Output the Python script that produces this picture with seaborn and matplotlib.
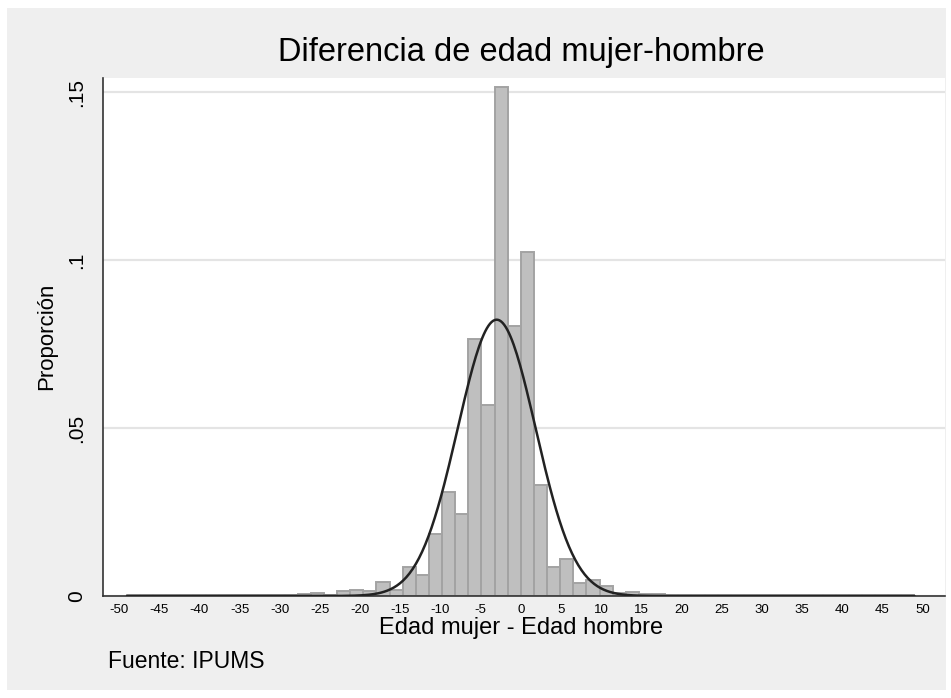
import numpy as np
import pandas as pd
import matplotlib
matplotlib.use("Agg")
import matplotlib.pyplot as plt
import seaborn as sns

# Histograma: 60 intervalos entre -49 y 49 (densidad por intervalo)
bin_start = -49
bin_end = 49
n_bins = 60
densidad = [
    0.0003, 0.0002, 0.0002, 0.0002, 0.0002, 0.0002, 0.0002, 0.0003, 0.0003, 0.0003,
    0.0003, 0.0004, 0.0004, 0.0005, 0.0008, 0.0004, 0.0015, 0.0019, 0.0015, 0.0042,
    0.0018, 0.0087, 0.0063, 0.0185, 0.0310, 0.0243, 0.0765, 0.0570, 0.1515, 0.0803,
    0.1023, 0.0330, 0.0087, 0.0110, 0.0040, 0.0048, 0.0029, 0.0008, 0.0011, 0.0007,
    0.0005, 0.0004, 0.0004, 0.0003, 0.0003, 0.0003, 0.0002, 0.0002, 0.0002, 0.0002,
    0.0002, 0.0002, 0.0002, 0.0002, 0.0002, 0.0002, 0.0002, 0.0002, 0.0002, 0.0002,
]

# Curva normal superpuesta
media = -3.0
desv = 4.85

x_major = [-50, 0, 50]
x_minor = [v for v in range(-45, 50, 5) if v != 0]
y_ticks = [0, 0.05, 0.1, 0.15]
y_ticklabels = ["0", ".05", ".1", ".15"]

edges = np.linspace(bin_start, bin_end, n_bins + 1)
df = pd.DataFrame({"centro": (edges[:-1] + edges[1:]) / 2, "densidad": densidad})

xs = np.linspace(bin_start, bin_end, 500)
curva = pd.DataFrame({
    "x": xs,
    "y": np.exp(-0.5 * ((xs - media) / desv) ** 2) / (desv * np.sqrt(2 * np.pi)),
})

sns.set_style("white")
plt.rcParams["font.family"] = ["Liberation Sans", "DejaVu Sans"]
plt.rcParams["text.color"] = "black"
plt.rcParams["xtick.color"] = "black"
plt.rcParams["ytick.color"] = "black"

W, H = 951, 698
fig = plt.figure(figsize=(W / 100, H / 100), dpi=100, facecolor="white")
fig.patches.append(plt.Rectangle((7 / W, 8 / H), 939 / W, 682 / H,
                                 transform=fig.transFigure, facecolor="#efefef",
                                 edgecolor="none", zorder=-1))

ax = fig.add_axes([103 / W, (H - 596) / H, 842 / W, 518 / H])
ax.set_facecolor("white")

sns.histplot(data=df, x="centro", weights="densidad", bins=n_bins,
             binrange=(bin_start, bin_end), stat="count", color="#bfbfbf",
             edgecolor="#a3a3a3", linewidth=1.4, alpha=1, ax=ax, zorder=2)
sns.lineplot(data=curva, x="x", y="y", color="#222222", linewidth=1.8, ax=ax, zorder=3)

ax.set_xlim(-52, 52.8)
ax.set_ylim(0, 0.1542)

ax.set_yticks(y_ticks)
ax.set_yticklabels(y_ticklabels, rotation=90, va="center", fontsize=15)
ax.tick_params(axis="y", direction="out", length=6, width=1, color="#333333", pad=6)
ax.yaxis.grid(True, color="#e4e4e4", linewidth=1.6, zorder=0)
ax.set_axisbelow(True)

ax.set_xticks(x_major)
ax.set_xticklabels([str(v) for v in x_major], fontsize=9.5)
ax.set_xticks(x_minor, labels=[str(v) for v in x_minor], minor=True, fontsize=9.5)
ax.tick_params(axis="x", which="major", direction="inout", length=10, width=1,
               color="#222222", pad=1)
ax.tick_params(axis="x", which="minor", direction="in", length=5, width=1,
               color="#222222", pad=6)

for s in ["top", "right"]:
    ax.spines[s].set_visible(False)
for s in ["left", "bottom"]:
    ax.spines[s].set_color("#333333")
    ax.spines[s].set_linewidth(1.2)

ax.set_xlabel("")
ax.set_ylabel("")
fig.text(47 / W, 1 - 336 / H, "Proporción", rotation=90, ha="center", va="center", fontsize=16)
fig.text(521 / W, 1 - 628 / H, "Edad mujer - Edad hombre", ha="center", va="center", fontsize=17)
fig.text(521 / W, 1 - 52 / H, "Diferencia de edad mujer-hombre", ha="center", va="center", fontsize=23.5)
fig.text(108 / W, 1 - 662 / H, "Fuente: IPUMS", ha="left", va="center", fontsize=16.5)

fig.savefig("out.png", dpi=100, facecolor=fig.get_facecolor())
